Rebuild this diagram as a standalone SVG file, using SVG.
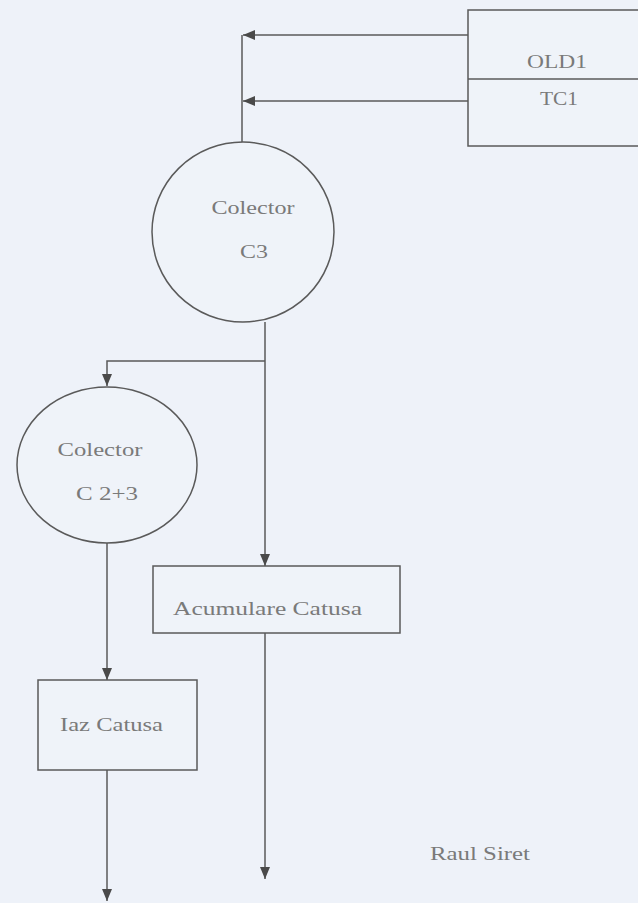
<svg xmlns="http://www.w3.org/2000/svg" width="638" height="903" viewBox="0 0 638 903">
<defs>
<marker id="ah" viewBox="0 0 12 10" refX="12" refY="5" markerWidth="12" markerHeight="10" markerUnits="userSpaceOnUse" orient="auto">
<path d="M0,0 L12,5 L0,10 Z" fill="#4a4a4a"/>
</marker>
<style>
.ln{fill:none;stroke:#5a5a5a;stroke-width:1.5}
.sh{fill:#eff3f9;stroke:#5a5a5a;stroke-width:1.5}
.tx{font-family:"Liberation Serif","Times New Roman",serif;font-size:19px;fill:#7a7a7a}
</style>
</defs>
<rect width="638" height="903" fill="#eef2f9"/>
<g id="connectors">
<line class="ln" x1="468" y1="35" x2="243" y2="35" marker-end="url(#ah)"/>
<line class="ln" x1="468" y1="101" x2="243" y2="101" marker-end="url(#ah)"/>
<line class="ln" x1="242" y1="35" x2="242" y2="142"/>
<line class="ln" x1="265" y1="322" x2="265" y2="566" marker-end="url(#ah)"/>
<polyline class="ln" points="265,361 107,361 107,386" marker-end="url(#ah)"/>
<line class="ln" x1="107" y1="543" x2="107" y2="680" marker-end="url(#ah)"/>
<line class="ln" x1="265" y1="633" x2="265" y2="879" marker-end="url(#ah)"/>
<line class="ln" x1="107" y1="770" x2="107" y2="901" marker-end="url(#ah)"/>
</g>
<g id="node-old1">
<rect class="sh" x="468" y="10" width="175" height="136"/>
<line class="ln" x1="468" y1="79" x2="640" y2="79"/>
<text class="tx" x="557" y="68" text-anchor="middle" textLength="60" lengthAdjust="spacingAndGlyphs">OLD1</text>
<text class="tx" x="559" y="105" text-anchor="middle" textLength="38" lengthAdjust="spacingAndGlyphs">TC1</text>
</g>
<g id="node-c3">
<ellipse class="sh" cx="243" cy="232" rx="91" ry="90"/>
<text class="tx" x="253" y="214" text-anchor="middle" textLength="83" lengthAdjust="spacingAndGlyphs">Colector</text>
<text class="tx" x="254" y="258" text-anchor="middle" textLength="28" lengthAdjust="spacingAndGlyphs">C3</text>
</g>
<g id="node-c23">
<ellipse class="sh" cx="107" cy="465" rx="90" ry="78"/>
<text class="tx" x="100" y="456" text-anchor="middle" textLength="85" lengthAdjust="spacingAndGlyphs">Colector</text>
<text class="tx" x="107" y="500" text-anchor="middle" textLength="62" lengthAdjust="spacingAndGlyphs">C 2+3</text>
</g>
<g id="node-acumulare">
<rect class="sh" x="153" y="566" width="247" height="67"/>
<text class="tx" x="173" y="615" textLength="189" lengthAdjust="spacingAndGlyphs">Acumulare  Catusa</text>
</g>
<g id="node-iaz">
<rect class="sh" x="38" y="680" width="159" height="90"/>
<text class="tx" x="60" y="731" textLength="103" lengthAdjust="spacingAndGlyphs">Iaz Catusa</text>
</g>
<g id="label-raul">
<text class="tx" x="430" y="860" textLength="100" lengthAdjust="spacingAndGlyphs">Raul Siret</text>
</g>
</svg>
